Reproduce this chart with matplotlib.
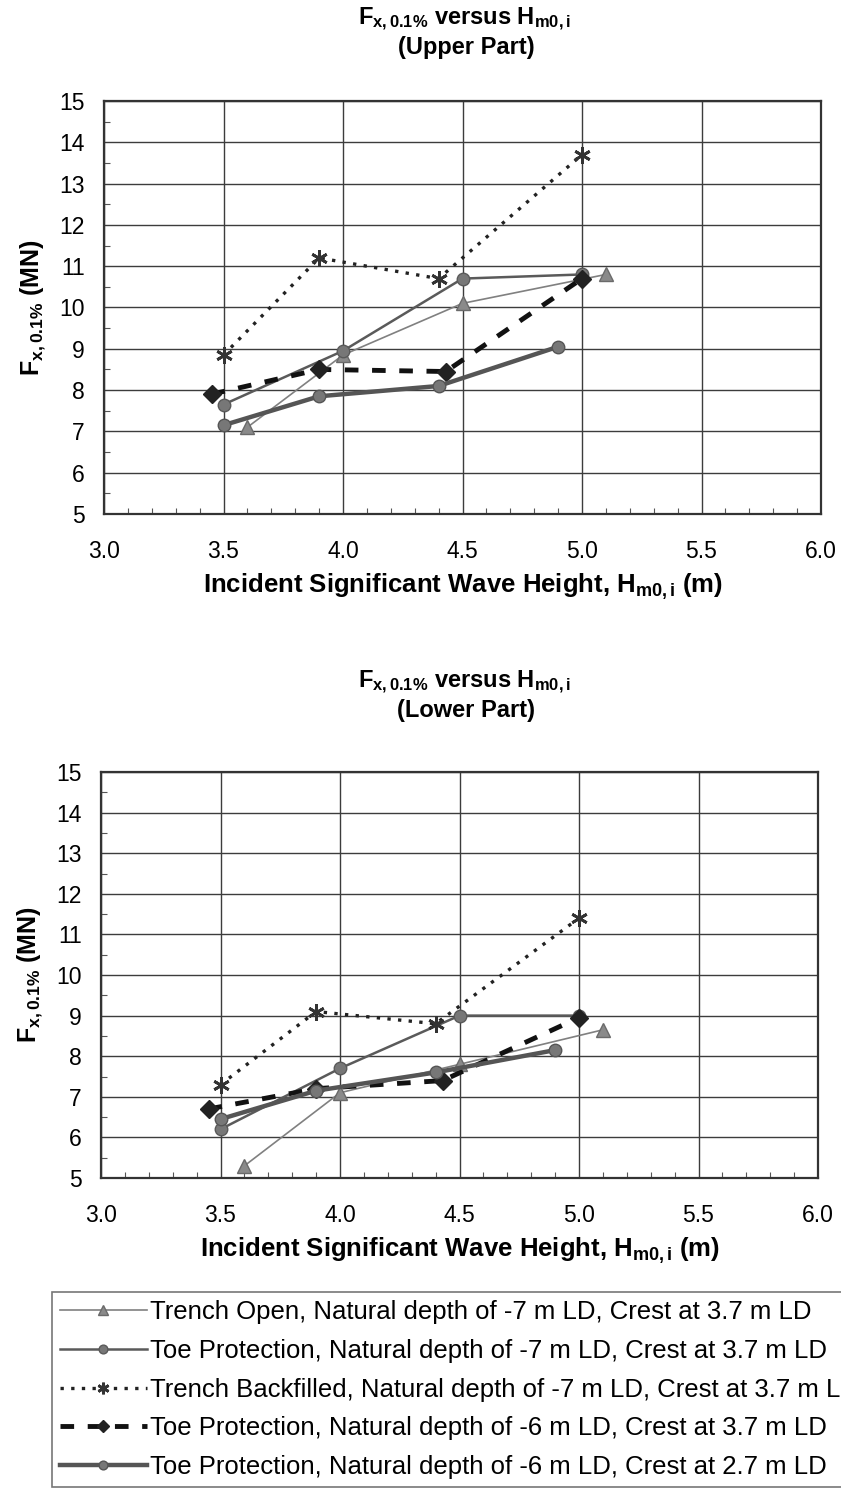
import numpy as np
import matplotlib
matplotlib.use("Agg")
import matplotlib.pyplot as plt
from matplotlib.ticker import MultipleLocator

plt.rcParams['font.family'] = ['Liberation Sans', 'DejaVu Sans']
plt.rcParams['mathtext.fontset'] = 'custom'
plt.rcParams['mathtext.rm'] = 'Liberation Sans'
plt.rcParams['mathtext.it'] = 'Liberation Sans'
plt.rcParams['mathtext.bf'] = 'Liberation Sans:bold'

# series labels
labels = ["Trench Open, Natural depth of -7 m LD, Crest at 3.7 m LD",
          "Toe Protection, Natural depth of -7 m LD, Crest at 3.7 m LD",
          "Trench Backfilled, Natural depth of -7 m LD, Crest at 3.7 m LD",
          "Toe Protection, Natural depth of -6 m LD, Crest at 3.7 m LD",
          "Toe Protection, Natural depth of -6 m LD, Crest at 2.7 m LD"]

# x values (Hm0,i in m)
hs_open = [3.6, 4.0, 4.5, 5.1]
hs_toe7 = [3.5, 4.0, 4.5, 5.0]
hs_back = [3.5, 3.9, 4.4, 5.0]
hs_toe6a = [3.45, 3.9, 4.43, 5.0]
hs_toe6b = [3.5, 3.9, 4.4, 4.9]

# upper part forces (MN)
up_open = [7.1, 8.85, 10.1, 10.8]
up_toe7 = [7.65, 8.95, 10.7, 10.8]
up_back = [8.85, 11.2, 10.7, 13.7]
up_toe6a = [7.9, 8.5, 8.45, 10.7]
up_toe6b = [7.15, 7.85, 8.1, 9.05]

# lower part forces (MN)
lo_open = [5.3, 7.1, 7.8, 8.65]
lo_toe7 = [6.2, 7.7, 9.0, 9.0]
lo_back = [7.3, 9.1, 8.8, 11.4]
lo_toe6a = [6.7, 7.2, 7.4, 8.95]
lo_toe6b = [6.45, 7.15, 7.6, 8.15]

W, H = 841, 1496
fig = plt.figure(figsize=(W / 100, H / 100), dpi=100)

ax_up = fig.add_axes([104 / W, 1 - 514 / H, 717 / W, 413 / H])
ax_lo = fig.add_axes([101 / W, 1 - 1178 / H, 717 / W, 406 / H])

star = (6, 2, 0)  # asterisk marker


def draw(ax, ys):
    ax.plot(hs_open, ys[0], color='#808080', lw=1.2, marker='^', ms=10,
            mfc='#8a8a8a', mec='#6a6a6a', label=labels[0])
    ax.plot(hs_toe7, ys[1], color='#5a5a5a', lw=1.8, marker='o', ms=9,
            mfc='#777777', mec='#5a5a5a', label=labels[1])
    ax.plot(hs_back, ys[2], color='#222222', lw=2.4, ls=(0, (1, 2.2)),
            marker=star, ms=12, mew=2, mec='#333333', label=labels[2])
    ax.plot(hs_toe6a, ys[3], color='#111111', lw=3.5, ls=(0, (2.8, 2.8)),
            marker='D', ms=9, mfc='#222222', mec='#222222', label=labels[3])
    ax.plot(hs_toe6b, ys[4], color='#555555', lw=3.2, marker='o', ms=9,
            mfc='#777777', mec='#555555', label=labels[4])

    ax.set_xlim(3.0, 6.0)
    ax.set_ylim(5, 15)
    ax.xaxis.set_major_locator(MultipleLocator(0.5))
    ax.xaxis.set_minor_locator(MultipleLocator(0.1))
    ax.yaxis.set_major_locator(MultipleLocator(1))
    ax.yaxis.set_minor_locator(MultipleLocator(0.5))
    ax.set_xticklabels([f"{v:.1f}" for v in ax.get_xticks()])
    ax.grid(True, which='major', color='#3c3c3c', lw=1.0)
    ax.set_axisbelow(True)
    ax.tick_params(which='major', length=0, labelsize=16.5)
    ax.tick_params(which='minor', direction='in', length=4, width=0.8, color='#555555')
    ax.tick_params(axis='y', which='major', pad=14)
    ax.tick_params(axis='x', which='major', pad=19)
    for s in ax.spines.values():
        s.set_linewidth(1.6)
        s.set_color('#333333')
    ax.set_xlabel(r"Incident Significant Wave Height, H$_{\mathbf{m0,i}}$ (m)",
                  fontsize=18.5, fontweight='bold', labelpad=6)
    ax.set_ylabel(r"F$_{\mathbf{x,0.1\%}}$ (MN)", fontsize=18, fontweight='bold', labelpad=8)


draw(ax_up, [up_open, up_toe7, up_back, up_toe6a, up_toe6b])
draw(ax_lo, [lo_open, lo_toe7, lo_back, lo_toe6a, lo_toe6b])

# titles (two lines each)
ttl = r"F$_{\mathbf{x,0.1\%}}$ versus H$_{\mathbf{m0,i}}$"
for y1, y2, part in [(25, 54, "(Upper Part)"), (688, 717, "(Lower Part)")]:
    fig.text(464 / W, 1 - y1 / H, ttl, ha='center', va='baseline', fontsize=17, fontweight='bold')
    fig.text(466 / W, 1 - y2 / H, part, ha='center', va='baseline', fontsize=17, fontweight='bold')

# legend below the lower chart, running off the right edge like the original
h, l = ax_lo.get_legend_handles_labels()
leg = fig.legend(h, l, loc='upper left', bbox_to_anchor=(52 / W, 1 - 1292 / H),
                 fontsize=18.5, frameon=True, fancybox=False, edgecolor='#555555',
                 handlelength=3.4, handletextpad=0.1, labelspacing=0.58,
                 borderpad=0.3, borderaxespad=0, numpoints=1, markerscale=0.7)
leg.get_frame().set_linewidth(1.2)

fig.savefig("out.png", dpi=100)
